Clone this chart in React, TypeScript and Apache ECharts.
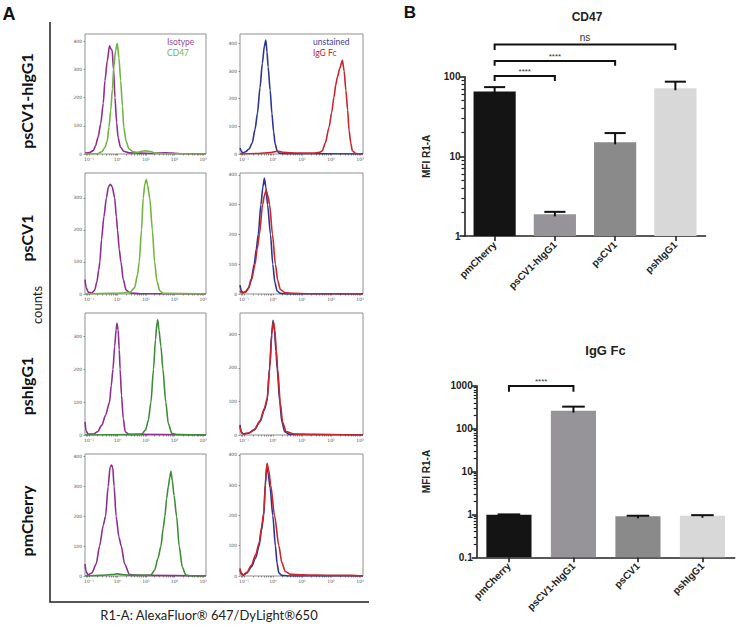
import React, { useEffect, useRef } from 'react';
import * as echarts from 'echarts';

// ---------- Panel A: flow cytometry histograms (x = log10 R1-A, y = counts) ----------
const rowLabels = ['psCV1-hIgG1', 'psCV1', 'pshIgG1', 'pmCherry'];
const legendLeft = ['Isotype', 'CD47'];
const legendRight = ['unstained', 'IgG Fc'];
const histXTicks = [-1, 0, 1, 2, 3];
const histXTickLabels = ['10⁻¹', '10⁰', '10¹', '10²', '10³'];
const histYTicks = [0, 100, 200, 300, 400];
const histYMax = [[425, 434], [378, 406], [371, 364], [409, 403]];

// Row 1: psCV1-hIgG1
const iso1 = [[-1.14,3],[-1.0,4],[-0.85,12],[-0.77,29],[-0.68,60],[-0.59,107],[-0.5,180],[-0.44,260],[-0.36,330],[-0.28,383],[-0.23,372],[-0.19,368],[-0.14,300],[-0.09,200],[-0.03,110],[0.02,58],[0.1,25],[0.22,10],[0.4,4],[0.8,3],[1.2,2],[1.7,4],[1.9,3],[2.3,1],[3.1,0]];
const cd1 = [[-1.14,0],[-0.7,1],[-0.55,8],[-0.45,22],[-0.36,46],[-0.3,95],[-0.24,154],[-0.18,230],[-0.13,308],[-0.07,365],[-0.01,392],[0.05,340],[0.11,260],[0.17,170],[0.22,94],[0.3,45],[0.4,18],[0.55,8],[0.7,6],[0.85,10],[1.0,11],[1.16,9],[1.3,3],[1.6,1],[3.1,0]];
const uns1 = [[-1.14,22],[-1.1,12],[-1.05,4],[-0.95,8],[-0.83,18],[-0.72,40],[-0.62,90],[-0.54,146],[-0.45,240],[-0.37,328],[-0.3,390],[-0.25,412],[-0.21,370],[-0.17,315],[-0.1,230],[-0.04,146],[0.02,80],[0.07,37],[0.14,12],[0.21,3],[0.4,1],[3.1,0]];
const fc1 = [[-1.14,0],[-0.5,2],[-0.1,5],[0.1,9],[0.2,10],[0.35,6],[0.6,4],[1.0,3],[1.4,3],[1.6,6],[1.7,12],[1.8,40],[1.93,97],[2.02,150],[2.1,206],[2.16,250],[2.22,279],[2.3,310],[2.39,339],[2.45,300],[2.51,230],[2.57,160],[2.62,85],[2.68,40],[2.73,12],[2.85,2],[3.1,0]];
// Row 2: psCV1
const iso2 = [[-1.14,45],[-1.1,20],[-1.03,6],[-0.9,3],[-0.8,12],[-0.72,40],[-0.66,75],[-0.62,100],[-0.56,170],[-0.48,240],[-0.39,300],[-0.32,335],[-0.25,343],[-0.19,336],[-0.1,300],[-0.04,240],[0.0,200],[0.06,140],[0.12,100],[0.2,45],[0.3,12],[0.45,3],[0.8,1],[3.1,0]];
const cd2 = [[-1.14,0],[-0.3,2],[0.2,3],[0.45,6],[0.6,20],[0.7,60],[0.76,100],[0.84,200],[0.9,300],[0.96,345],[1.01,358],[1.05,340],[1.13,300],[1.22,200],[1.3,100],[1.38,40],[1.48,10],[1.6,2],[3.1,0]];
const uns2 = [[-1.14,30],[-1.1,12],[-1.04,4],[-0.95,8],[-0.85,20],[-0.75,50],[-0.65,100],[-0.58,150],[-0.51,200],[-0.42,300],[-0.35,360],[-0.3,388],[-0.25,360],[-0.19,300],[-0.09,200],[-0.01,100],[0.06,40],[0.14,10],[0.25,2],[0.5,0],[3.1,0]];
const fc2 = [[-1.14,10],[-1.08,4],[-0.95,6],[-0.85,18],[-0.75,45],[-0.62,100],[-0.55,150],[-0.47,200],[-0.36,300],[-0.3,330],[-0.24,348],[-0.18,330],[-0.12,300],[-0.02,200],[0.08,100],[0.16,45],[0.25,15],[0.4,5],[0.7,2],[1.2,1],[3.1,0]];
// Row 3: pshIgG1
const iso3 = [[-1.14,40],[-1.1,12],[-1.03,3],[-0.84,3],[-0.7,10],[-0.55,30],[-0.42,60],[-0.28,100],[-0.22,150],[-0.16,200],[-0.1,270],[-0.05,320],[-0.02,340],[0.02,320],[0.06,260],[0.09,200],[0.14,120],[0.2,50],[0.27,10],[0.4,2],[3.1,0]];
const cd3 = [[-1.14,0],[0.5,1],[0.85,3],[0.98,15],[1.08,45],[1.17,100],[1.26,200],[1.33,290],[1.38,340],[1.41,350],[1.45,320],[1.52,270],[1.59,200],[1.69,100],[1.78,35],[1.9,5],[2.1,1],[3.1,0]];
const uns3 = [[-1.14,30],[-1.1,10],[-1.03,3],[-0.85,5],[-0.65,15],[-0.45,40],[-0.3,75],[-0.21,100],[-0.12,200],[-0.05,300],[0.0,342],[0.05,310],[0.1,250],[0.14,200],[0.23,100],[0.3,40],[0.4,10],[0.55,2],[3.1,0]];
const fc3 = [[-1.14,25],[-1.1,8],[-1.03,3],[-0.85,6],[-0.65,16],[-0.45,42],[-0.3,80],[-0.2,110],[-0.11,205],[-0.04,305],[0.01,338],[0.06,315],[0.11,255],[0.16,195],[0.25,95],[0.33,38],[0.45,10],[0.7,3],[1.5,1],[3.1,0]];
// Row 4: pmCherry
const iso4 = [[-1.14,40],[-1.1,15],[-1.04,4],[-0.9,10],[-0.75,40],[-0.63,100],[-0.5,170],[-0.42,200],[-0.33,300],[-0.26,365],[-0.21,372],[-0.17,365],[-0.12,300],[-0.05,200],[0.05,130],[0.13,100],[0.25,40],[0.42,5],[0.6,3],[1.0,2],[3.1,0]];
const cd4 = [[-1.14,0],[-0.6,2],[-0.2,5],[0.0,7],[0.2,4],[0.6,2],[1.0,2],[1.17,3],[1.3,20],[1.42,60],[1.52,100],[1.6,160],[1.66,200],[1.72,260],[1.78,300],[1.83,330],[1.87,351],[1.92,320],[1.98,270],[2.07,200],[2.16,100],[2.27,30],[2.39,3],[2.6,0],[3.1,0]];
const uns4 = [[-1.14,20],[-1.1,8],[-1.03,3],[-0.9,10],[-0.75,30],[-0.6,60],[-0.48,100],[-0.4,150],[-0.32,200],[-0.27,300],[-0.22,360],[-0.17,340],[-0.1,290],[-0.01,200],[0.08,100],[0.14,40],[0.2,10],[0.3,2],[0.6,0],[3.1,0]];
const fc4 = [[-1.14,25],[-1.1,10],[-1.03,4],[-0.9,12],[-0.75,35],[-0.6,70],[-0.48,110],[-0.4,160],[-0.32,210],[-0.26,310],[-0.21,372],[-0.15,350],[-0.08,300],[0.05,200],[0.2,100],[0.3,45],[0.42,15],[0.6,6],[1.0,4],[1.5,3],[2.2,2],[2.7,2],[3.1,0]];

const histCurves = [
  [[iso1, cd1], [uns1, fc1]],
  [[iso2, cd2], [uns2, fc2]],
  [[iso3, cd3], [uns3, fc3]],
  [[iso4, cd4], [uns4, fc4]],
];

// ---------- Panel B: MFI bar charts ----------
const barCategories = ['pmCherry', 'psCV1-hIgG1', 'psCV1', 'pshIgG1'];
const cd47Mean = [65, 1.87, 15, 71.6];
const cd47Err = [9, 0.14, 4.6, 15];
const fcMean = [0.98, 262, 0.9, 0.93];
const fcErr = [0.02, 63, 0.03, 0.03];
// [fromCategory, toCategory, bracketValue, tipValue]
const cd47Brackets = [[0, 1, 102, 88], [0, 2, 157, 137], [0, 3, 254, 216]];
const cd47BracketLabels = ['****', '****', 'ns'];
const fcBrackets = [[0, 1, 984, 725]];
const fcBracketLabels = ['****'];

const PURPLE = '#8e2f8e';
const GREEN1 = '#72b440';
const GREEN2 = '#3f8c37';
const BLUE = '#2d3590';
const RED = '#c9252b';
const histColors = [
  [[PURPLE, GREEN1], [BLUE, RED]],
  [[PURPLE, GREEN1], [BLUE, RED]],
  [[PURPLE, GREEN2], [BLUE, RED]],
  [[PURPLE, GREEN2], [BLUE, RED]],
];
const barColors = ['#141414', '#969499', '#8a8a8a', '#d8d8d8'];

function minorTicks(lo: number, hi: number) {
  const out: number[] = [];
  for (let d = lo; d < hi; d++) {
    for (let k = 2; k <= 9; k++) out.push(k * Math.pow(10, d));
  }
  return out.map((v) => parseFloat(v.toPrecision(6)));
}

function histMinorTicks() {
  const out: number[] = [];
  for (let d = -2; d <= 3; d++) {
    out.push(d);
    for (let k = 2; k <= 9; k++) out.push(d + Math.log10(k));
  }
  return out.filter((v) => v >= -1.14 && v <= 3.1);
}

const barRender = (params: any, api: any) => {
  const i = api.value(0);
  const v = api.value(1);
  const top = api.coord([i, v]);
  const w = api.size([1, 0], [i, v])[0] * 0.7;
  const cs = params.coordSys;
  const bottom = cs.y + cs.height;
  return {
    type: 'rect',
    shape: { x: top[0] - w / 2, y: top[1], width: w, height: bottom - top[1] },
    style: { fill: barColors[i] },
  };
};

const errRender = (params: any, api: any) => {
  const i = api.value(0);
  const m = api.value(1);
  const e = api.value(2);
  const top = api.coord([i, m + e]);
  const base = api.coord([i, m]);
  const hw = api.size([1, 0], [i, m])[0] * 0.175;
  const st = { stroke: '#111', lineWidth: 2 };
  return {
    type: 'group',
    children: [
      { type: 'line', shape: { x1: top[0], y1: top[1], x2: top[0], y2: base[1] + 2 }, style: st },
      { type: 'line', shape: { x1: top[0] - hw, y1: top[1], x2: top[0] + hw, y2: top[1] }, style: st },
    ],
  };
};

const bracketRender = (labels: string[]) => (params: any, api: any) => {
  const i0 = api.value(0);
  const i1 = api.value(1);
  const yv = api.value(2);
  const tv = api.value(3);
  const a = api.coord([i0, yv]);
  const b = api.coord([i1, yv]);
  const t = api.coord([i0, tv]);
  const label = labels[params.dataIndex];
  const isNs = label === 'ns';
  return {
    type: 'group',
    children: [
      {
        type: 'polyline',
        shape: { points: [[a[0], t[1]], [a[0], a[1]], [b[0], a[1]], [b[0], t[1]]] },
        style: { stroke: '#111', lineWidth: 2, fill: 'none' },
      },
      {
        type: 'text',
        x: (a[0] + b[0]) / 2,
        y: a[1] - (isNs ? 2 : 1),
        style: {
          text: label,
          textAlign: 'center',
          textVerticalAlign: 'bottom',
          align: 'center',
          verticalAlign: 'bottom',
          fontSize: isNs ? 10 : 8,
          fontFamily: 'Liberation Sans',
          fill: '#333',
        },
      },
    ],
  };
};

function buildOption() {
  const colLeft = [85, 240];
  const colW = [121, 123];
  const rowTop = [34, 173, 313, 454];
  const rowH = [120, 121, 122, 122];
  const grids: any[] = [];
  const xAxes: any[] = [];
  const yAxes: any[] = [];
  const series: any[] = [];
  const hTicks = histMinorTicks();

  for (let r = 0; r < 4; r++) {
    for (let c = 0; c < 2; c++) {
      const gi = r * 2 + c;
      grids.push({
        left: colLeft[c], top: rowTop[r], width: colW[c], height: rowH[r],
        show: true, borderColor: '#8f8f8f', borderWidth: 1, backgroundColor: 'transparent',
        containLabel: false, outerBoundsMode: 'none',
      });
      xAxes.push({
        type: 'value', gridIndex: gi, min: -1.14, max: 3.1,
        axisLine: { show: false, onZero: false }, splitLine: { show: false },
        axisTick: { show: true, customValues: hTicks, length: 1.5, lineStyle: { color: '#555', width: 0.6 } },
        axisLabel: {
          customValues: histXTicks,
          formatter: (v: number) => histXTickLabels[histXTicks.indexOf(Math.round(v))],
          fontSize: 4.5, color: '#555', margin: 2.5, fontFamily: 'DejaVu Sans',
        },
      });
      const ymax = histYMax[r][c];
      const yt = histYTicks.filter((v) => v <= ymax);
      yAxes.push({
        type: 'value', gridIndex: gi, min: 0, max: ymax,
        axisLine: { show: false, onZero: false }, splitLine: { show: false },
        axisTick: { show: true, customValues: yt, length: 1.5, lineStyle: { color: '#555', width: 0.6 } },
        axisLabel: { customValues: yt, fontSize: 4.5, color: '#555', margin: 3, fontFamily: 'DejaVu Sans' },
      });
      for (let k = 0; k < 2; k++) {
        series.push({
          type: 'line', xAxisIndex: gi, yAxisIndex: gi,
          data: histCurves[r][c][k],
          symbol: 'none', showSymbol: false, smooth: 0.25, smoothMonotone: 'x',
          lineStyle: { color: histColors[r][c][k], width: 1.6 },
          itemStyle: { color: histColors[r][c][k] },
          silent: true, z: 2 + k,
        });
      }
    }
  }

  // Bar chart grids
  const barGrids = [
    { left: 464.5, top: 76.7, width: 241, height: 159.3 },
    { left: 476.7, top: 385.7, width: 258, height: 171.6 },
  ];
  const barAxisStyle = { color: '#222', width: 1.6 };
  const specs = [
    { mean: cd47Mean, err: cd47Err, min: 1, max: 100, br: cd47Brackets, bl: cd47BracketLabels, gap: 33 },
    { mean: fcMean, err: fcErr, min: 0.1, max: 1000, br: fcBrackets, bl: fcBracketLabels, gap: 45 },
  ];
  specs.forEach((s, j) => {
    const gi = 8 + j;
    grids.push({ ...barGrids[j], containLabel: false, outerBoundsMode: 'none' });
    xAxes.push({
      type: 'category', gridIndex: gi, data: barCategories,
      axisLine: { show: true, lineStyle: barAxisStyle },
      axisTick: { show: true, alignWithLabel: true, length: 5, lineStyle: barAxisStyle },
      axisLabel: {
        rotate: 45, interval: 0, fontSize: 10, fontWeight: 'bold', fontFamily: 'Liberation Sans',
        color: '#222', margin: 7,
      },
      splitLine: { show: false },
    });
    const yMainIndex = yAxes.length;
    yAxes.push({
      type: 'log', logBase: 10, gridIndex: gi, min: s.min, max: s.max, position: 'left',
      axisLine: { show: true, onZero: false, lineStyle: barAxisStyle },
      axisTick: { show: true, length: 5, lineStyle: barAxisStyle },
      axisLabel: {
        fontSize: 10, fontWeight: 'bold', fontFamily: 'Liberation Sans', color: '#222', margin: 4,
        formatter: (v: number) => String(v),
      },
      splitLine: { show: false },
      name: 'MFI R1-A', nameLocation: 'middle', nameRotate: 90, nameGap: s.gap,
      nameTextStyle: { fontSize: 10, fontWeight: 'bold', fontFamily: 'Liberation Sans', color: '#222' },
    });
    yAxes.push({
      type: 'log', logBase: 10, gridIndex: gi, min: s.min, max: s.max, position: 'left',
      axisLine: { show: false, onZero: false }, axisLabel: { show: false }, splitLine: { show: false },
      axisTick: {
        show: true, length: 3, customValues: minorTicks(Math.round(Math.log10(s.min)), Math.round(Math.log10(s.max))),
        lineStyle: { color: '#222', width: 1.2 },
      },
    });
    series.push({
      type: 'custom', xAxisIndex: gi, yAxisIndex: yMainIndex,
      data: s.mean.map((v, i) => [i, v]),
      encode: { x: 0, y: 1 }, renderItem: barRender, silent: true, z: 2,
    });
    series.push({
      type: 'custom', xAxisIndex: gi, yAxisIndex: yMainIndex,
      data: s.mean.map((v, i) => [i, v, s.err[i]]),
      encode: { x: 0, y: 1 }, renderItem: errRender, silent: true, z: 5,
    });
    series.push({
      type: 'custom', xAxisIndex: gi, yAxisIndex: yMainIndex,
      data: s.br, encode: { x: [0, 1], y: [2, 3] },
      renderItem: bracketRender(s.bl), clip: false, silent: true, z: 5,
    });
  });

  const rowLabelY = [101, 238, 386, 521];
  const center = { textAlign: 'center', textVerticalAlign: 'middle', align: 'center', verticalAlign: 'middle' };
  const leftMid = { textAlign: 'left', textVerticalAlign: 'middle', align: 'left', verticalAlign: 'middle' };
  const graphic: any[] = [
    { type: 'polyline', shape: { points: [[50, 22], [50, 602], [369, 602]] }, style: { stroke: '#222', lineWidth: 1.5, fill: 'none' } },
    { type: 'text', x: 9, y: 14, style: { text: 'A', font: 'bold 18px "Liberation Sans"', fill: '#111', ...center } },
    { type: 'text', x: 410, y: 12, style: { text: 'B', font: 'bold 17px "Liberation Sans"', fill: '#111', ...center } },
    { type: 'text', x: 37, y: 305, rotation: Math.PI / 2, style: { text: 'counts', font: '13px Lato', fill: '#222', ...center } },
    { type: 'text', x: 209, y: 615, style: { text: 'R1-A: AlexaFluor® 647/DyLight®650', font: '13px Lato', fill: '#222', ...center } },
    { type: 'text', x: 587, y: 17, style: { text: 'CD47', font: 'bold 12px "Liberation Sans"', fill: '#222', ...center } },
    { type: 'text', x: 605.5, y: 350, style: { text: 'IgG Fc', font: 'bold 13px "Liberation Sans"', fill: '#222', ...center } },
    { type: 'text', x: 167, y: 42, style: { text: legendLeft[0], font: '8.5px Lato', fill: '#9a4a9a', ...leftMid } },
    { type: 'text', x: 167, y: 53, style: { text: legendLeft[1], font: '8.5px Lato', fill: '#76b447', ...leftMid } },
    { type: 'text', x: 313, y: 42, style: { text: legendRight[0], font: '8.5px Lato', fill: '#3a3f98', ...leftMid } },
    { type: 'text', x: 313, y: 53, style: { text: legendRight[1], font: '8.5px Lato', fill: '#c0282a', ...leftMid } },
  ];
  rowLabels.forEach((t, i) => {
    graphic.push({
      type: 'text', x: 26, y: rowLabelY[i], rotation: Math.PI / 2,
      style: { text: t, font: 'bold 16px Lato', fill: '#111', ...center },
    });
  });

  return {
    animation: false,
    backgroundColor: '#ffffff',
    grid: grids,
    xAxis: xAxes,
    yAxis: yAxes,
    series,
    graphic,
  };
}

export default function App() {
  const ref = useRef<HTMLDivElement>(null);
  useEffect(() => {
    if (!ref.current) return;
    const chart = echarts.init(ref.current, undefined, { renderer: 'svg' });
    chart.setOption(buildOption() as any);
    return () => chart.dispose();
  }, []);
  return <div ref={ref} style={{ position: 'absolute', left: 0, top: 0, width: 738, height: 631 }} />;
}
